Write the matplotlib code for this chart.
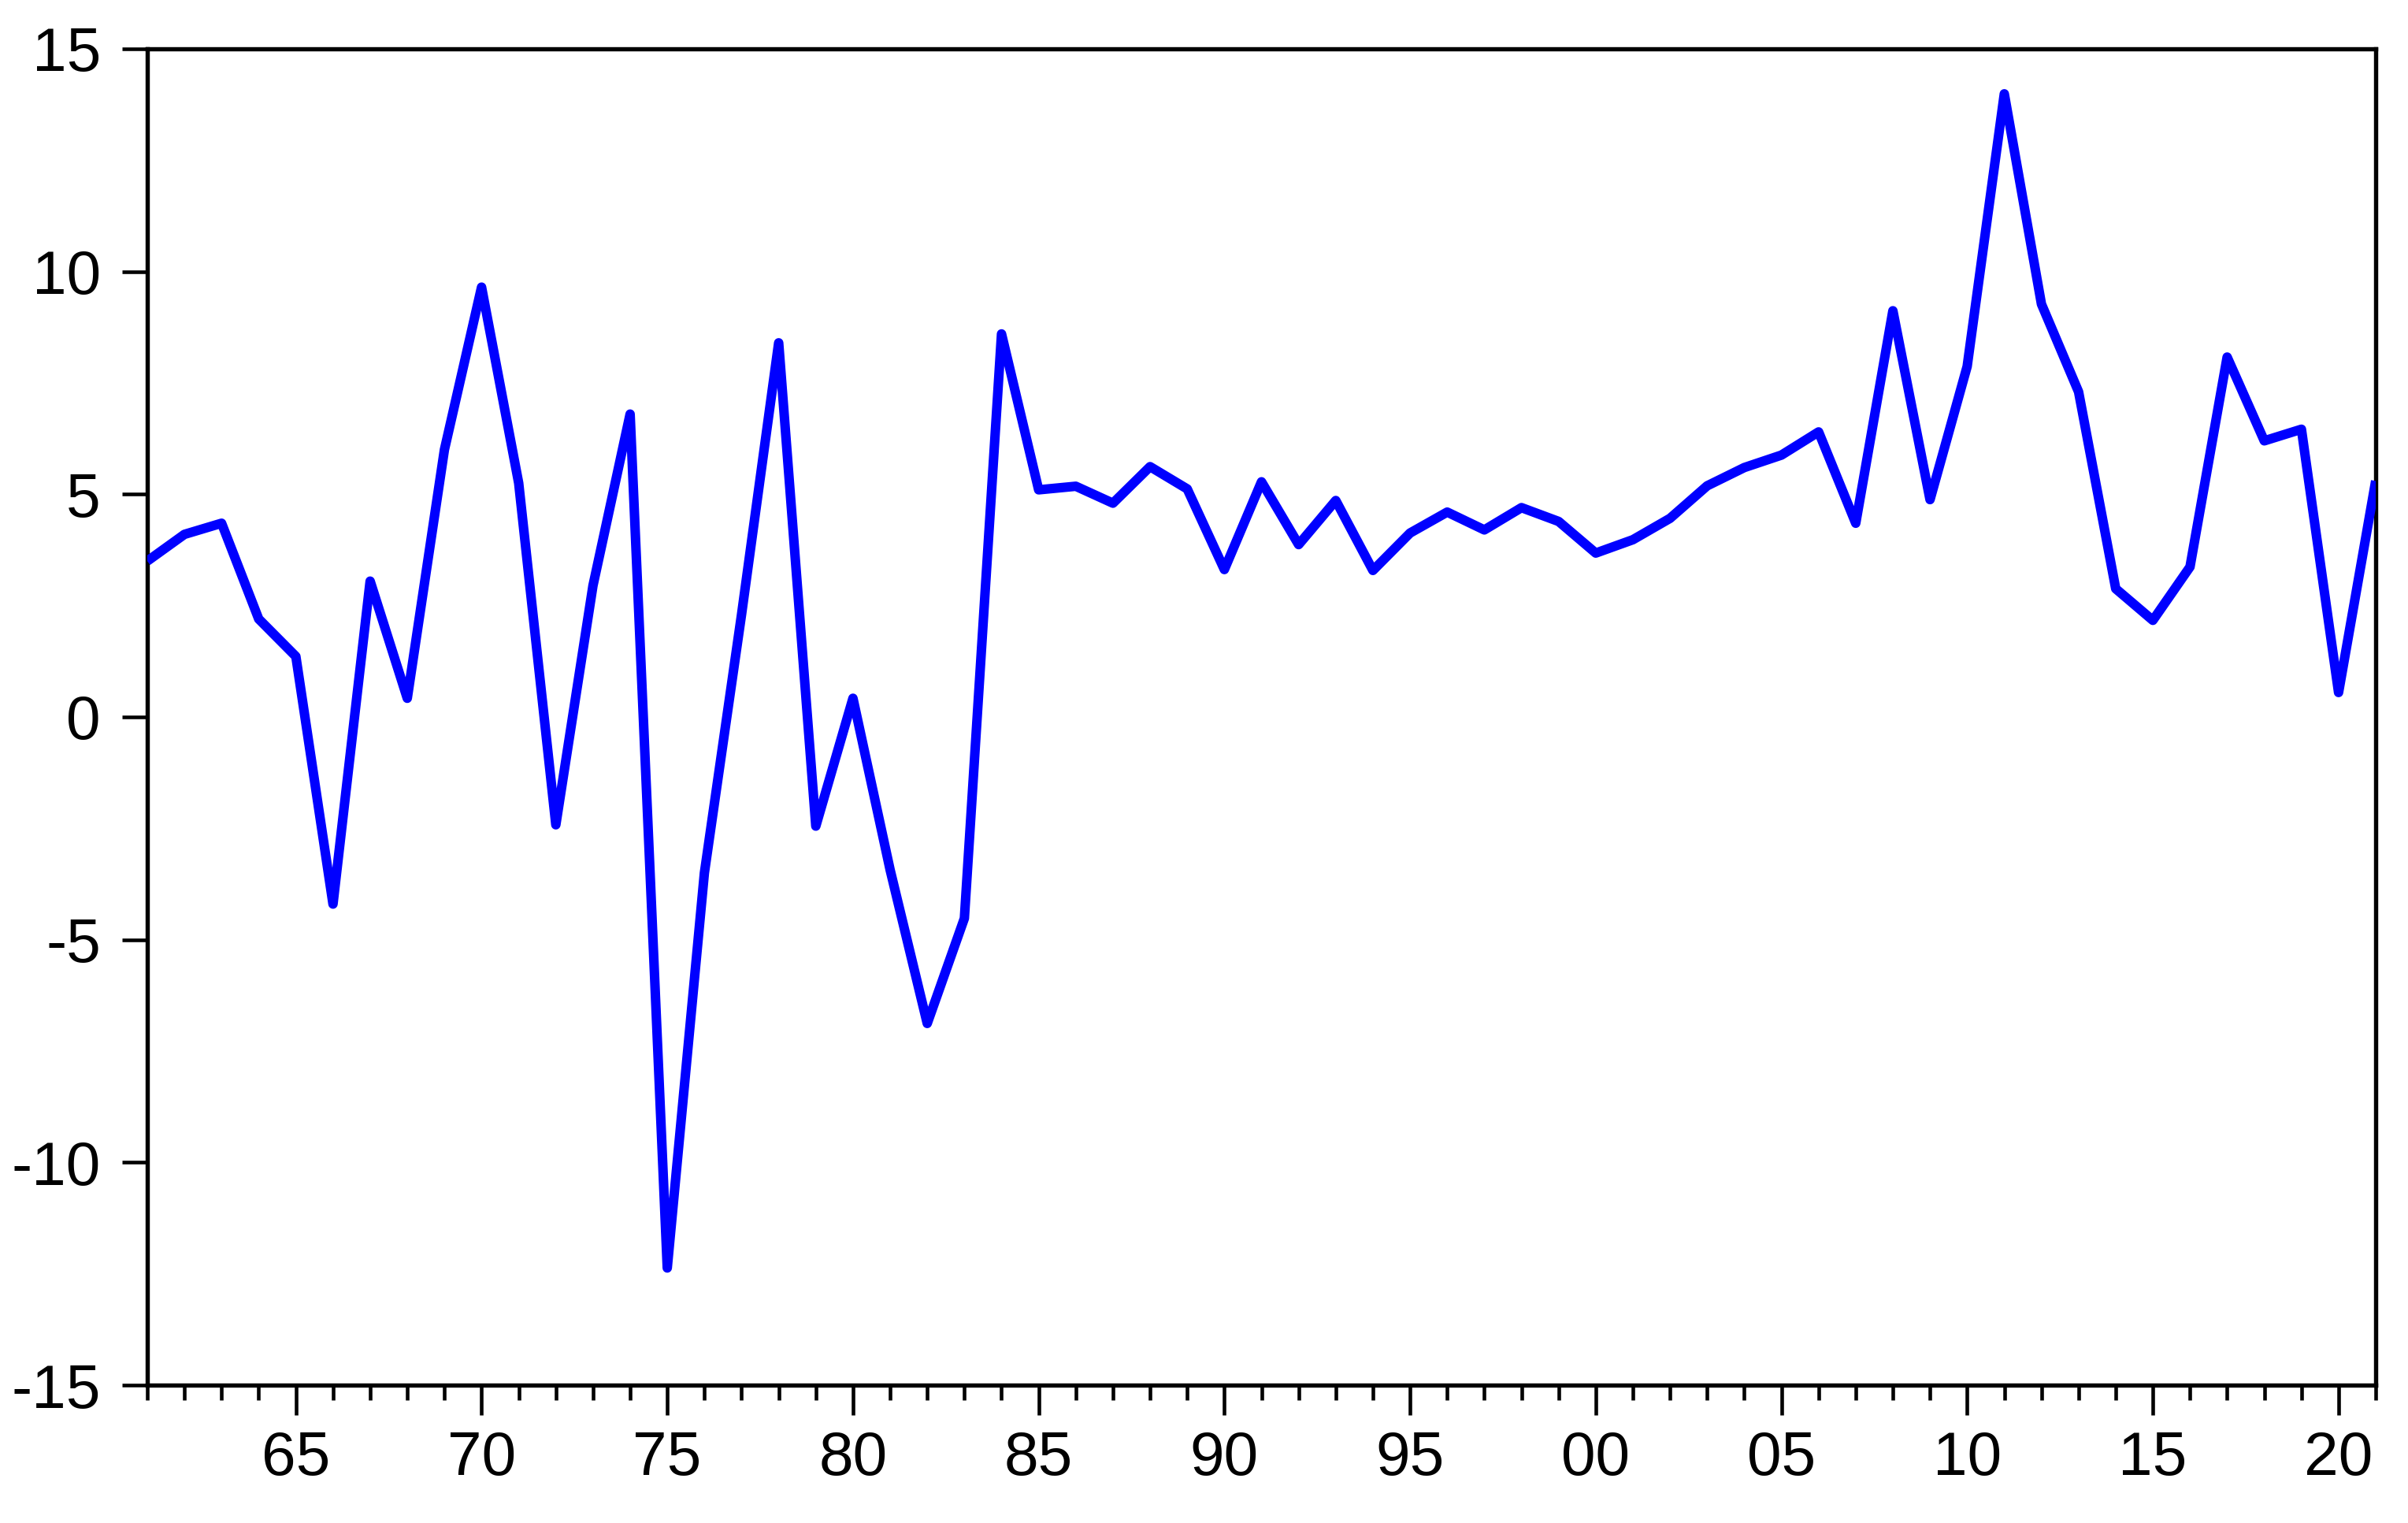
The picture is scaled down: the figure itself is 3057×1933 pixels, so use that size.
import matplotlib
matplotlib.use("Agg")
import matplotlib.pyplot as plt
from matplotlib.ticker import FixedLocator, MultipleLocator

years = list(range(1961, 2022))
values = [3.5, 4.1, 4.35, 2.2, 1.36, -4.2, 3.05, 0.42, 6.0, 9.65,
          5.25, -2.42, 2.95, 6.8, -12.37, -3.5, 2.3, 8.4, -2.45, 0.42,
          -3.43, -6.88, -4.52, 8.6, 5.1, 5.18, 4.8, 5.62, 5.12, 3.31,
          5.28, 3.87, 4.86, 3.29, 4.13, 4.6, 4.2, 4.7, 4.39, 3.68,
          3.98, 4.46, 5.19, 5.6, 5.88, 6.4, 4.35, 9.12, 4.88, 7.87,
          13.99, 9.27, 7.3, 2.88, 2.17, 3.37, 8.08, 6.2, 6.46, 0.55,
          5.3]

major_years = list(range(1965, 2021, 5))
major_labels = [f"{y % 100:02d}" for y in major_years]
y_ticks = [-15, -10, -5, 0, 5, 10, 15]

plt.rcParams['font.family'] = ['Liberation Sans', 'DejaVu Sans']

fig = plt.figure(figsize=(3057 / 300, 1933 / 300), dpi=300)
ax = fig.add_axes([187 / 3057, 1 - 1758 / 1933, (3016 - 187) / 3057, (1758 - 62) / 1933])

ax.plot(years, values, color=(0, 0, 1), linewidth=2.9, solid_joinstyle='round',
        solid_capstyle='butt', zorder=3)

ax.set_xlim(1961, 2021)
ax.set_ylim(-15, 15)

ax.xaxis.set_major_locator(FixedLocator(major_years))
ax.set_xticklabels(major_labels)
ax.xaxis.set_minor_locator(MultipleLocator(1))
ax.set_yticks(y_ticks)
ax.set_yticklabels([str(v) for v in y_ticks])

for s in ax.spines.values():
    s.set_linewidth(1.3)
    s.set_color('black')

ax.tick_params(axis='x', which='major', direction='out', length=9.1, width=1.1,
               labelsize=18.8, pad=4.5, top=False)
ax.tick_params(axis='x', which='minor', direction='out', length=4.6, width=1.1, top=False)
ax.tick_params(axis='y', which='major', direction='out', length=7.7, width=1.1,
               labelsize=18.8, pad=6.5, right=False)

fig.savefig("out.png", dpi=300)
